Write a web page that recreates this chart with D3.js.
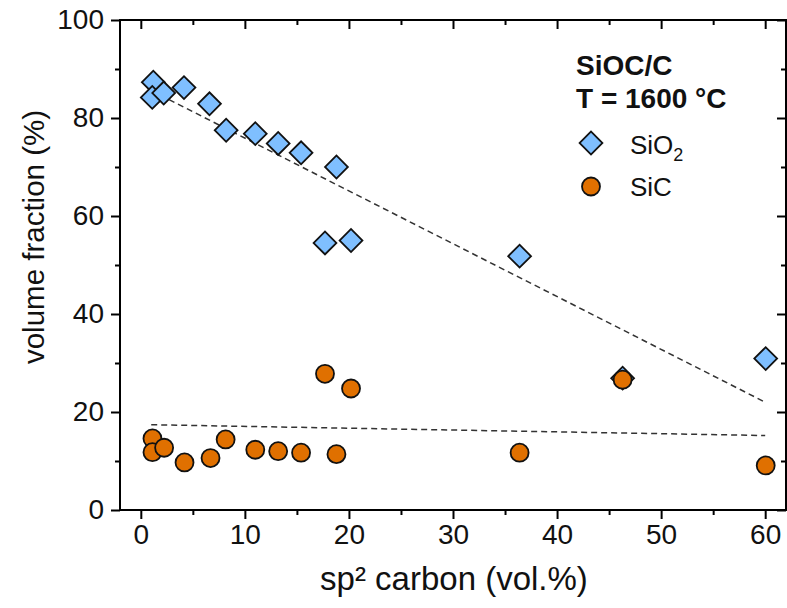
<!DOCTYPE html>
<html>
<head>
<meta charset="utf-8">
<script src="https://cdn.jsdelivr.net/npm/d3@7/dist/d3.min.js"></script>
<style>
  html, body { margin: 0; padding: 0; background: #fff; }
  svg { display: block; font-family: "Liberation Sans", Arial, sans-serif; }
</style>
</head>
<body>
<svg id="chart" width="787" height="608"></svg>
<script>
// ---- data ----
const sio2X = [1.2, 1.1, 2.2, 4.15, 6.6, 8.2, 11.0, 13.2, 15.4, 18.8, 17.7, 20.2, 36.4, 46.3, 60.05];
const sio2Y = [87.3, 84.2, 85.1, 86.2, 82.9, 77.5, 76.8, 74.8, 72.9, 70.0, 54.5, 55.0, 51.8, 26.9, 30.9];
const sicX  = [1.12, 1.12, 2.24, 4.2, 6.7, 8.15, 11.0, 13.2, 15.4, 18.8, 17.7, 20.2, 36.4, 46.3, 60.05];
const sicY  = [14.6, 11.8, 12.7, 9.7, 10.6, 14.4, 12.3, 12.0, 11.7, 11.4, 27.8, 24.8, 11.7, 26.6, 9.1];
const sio2FitX = [1, 60];
const sio2FitY = [85.6, 22.0];
const sicFitX  = [1, 60];
const sicFitY  = [17.4, 15.2];
const xTicks = [0, 10, 20, 30, 40, 50, 60];
const xMinor = [5, 15, 25, 35, 45, 55];
const yTicks = [0, 20, 40, 60, 80, 100];
const yMinor = [10, 30, 50, 70, 90];
const seriesNames = ["SiO\u2082", "SiC"];
const titleLines = ["SiOC/C", "T = 1600 \u00B0C"];

// ---- layout ----
const L = 120, R = 786, T = 20, B = 510;
const svg = d3.select("#chart");
const x = d3.scaleLinear().domain([-2, 62]).range([L, R]);
const y = d3.scaleLinear().domain([0, 100]).range([B, T]);

const blue = "#7fbfff", orange = "#e07000";
const fs = 28;

function styleAxis(g) {
  g.select(".domain").remove();
  g.selectAll("line").attr("stroke", "#000").attr("stroke-width", 2);
  g.selectAll("text").attr("font-size", fs).attr("fill", "#111")
    .attr("font-family", '"Liberation Sans", Arial, sans-serif');
}
// bottom
svg.append("g").attr("transform", `translate(0,${B})`)
  .call(d3.axisBottom(x).tickValues(xTicks).tickSize(9).tickPadding(5).tickFormat(d3.format("d")))
  .call(styleAxis);
svg.append("g").attr("transform", `translate(0,${B})`)
  .call(d3.axisBottom(x).tickValues(xMinor).tickSize(5).tickFormat(""))
  .call(styleAxis);
// left
svg.append("g").attr("transform", `translate(${L},0)`)
  .call(d3.axisLeft(y).tickValues(yTicks).tickSize(9).tickPadding(7).tickFormat(d3.format("d")))
  .call(styleAxis);
svg.append("g").attr("transform", `translate(${L},0)`)
  .call(d3.axisLeft(y).tickValues(yMinor).tickSize(5).tickFormat(""))
  .call(styleAxis);
// top (inward)
svg.append("g").attr("transform", `translate(0,${T})`)
  .call(d3.axisBottom(x).tickValues(xTicks).tickSize(9).tickFormat(""))
  .call(styleAxis);
svg.append("g").attr("transform", `translate(0,${T})`)
  .call(d3.axisBottom(x).tickValues(xMinor).tickSize(5).tickFormat(""))
  .call(styleAxis);
// right (inward)
svg.append("g").attr("transform", `translate(${R},0)`)
  .call(d3.axisLeft(y).tickValues(yTicks).tickSize(9).tickFormat(""))
  .call(styleAxis);
svg.append("g").attr("transform", `translate(${R},0)`)
  .call(d3.axisLeft(y).tickValues(yMinor).tickSize(5).tickFormat(""))
  .call(styleAxis);

// frame
svg.append("rect").attr("x", L).attr("y", T).attr("width", R - L).attr("height", B - T)
  .attr("fill", "none").attr("stroke", "#000").attr("stroke-width", 2);

// axis titles
svg.append("text").attr("x", 454).attr("y", 590).attr("text-anchor", "middle")
  .attr("font-size", 33).attr("fill", "#111").text("sp\u00B2 carbon (vol.%)");
svg.append("text").attr("transform", `translate(44,237) rotate(-90)`).attr("text-anchor", "middle")
  .attr("font-size", 29.5).attr("fill", "#111").text("volume fraction (%)");

// fit lines
const line = d3.line().x(d => x(d[0])).y(d => y(d[1]));
[[sio2FitX, sio2FitY], [sicFitX, sicFitY]].forEach(([fx, fy]) => {
  svg.append("path").datum(fx.map((v, i) => [v, fy[i]])).attr("d", line)
    .attr("fill", "none").attr("stroke", "#333").attr("stroke-width", 1.5).attr("stroke-dasharray", "6,4");
});

// markers
const diamond = d3.symbol().type(d3.symbolSquare).size(260);
svg.append("g").selectAll("path").data(sio2X.map((v, i) => [v, sio2Y[i]])).join("path")
  .attr("d", diamond)
  .attr("transform", d => `translate(${x(d[0])},${y(d[1])}) rotate(45)`)
  .attr("fill", blue).attr("stroke", "#111").attr("stroke-width", 1.8);
svg.append("g").selectAll("circle").data(sicX.map((v, i) => [v, sicY[i]])).join("circle")
  .attr("cx", d => x(d[0])).attr("cy", d => y(d[1])).attr("r", 9)
  .attr("fill", orange).attr("stroke", "#111").attr("stroke-width", 1.8);

// legend
const lg = svg.append("g");
lg.selectAll("text.t").data(titleLines).join("text").attr("class", "t")
  .attr("x", 576).attr("y", (d, i) => 75 + i * 33)
  .attr("font-size", 28).attr("font-weight", "bold").attr("fill", "#111").text(d => d);
lg.append("path").attr("d", diamond).attr("transform", "translate(591,143) rotate(45)")
  .attr("fill", blue).attr("stroke", "#111").attr("stroke-width", 1.8);
lg.append("circle").attr("cx", 591).attr("cy", 186.5).attr("r", 9)
  .attr("fill", orange).attr("stroke", "#111").attr("stroke-width", 1.8);
const t1 = lg.append("text").attr("x", 630).attr("y", 154).attr("font-size", 26).attr("fill", "#111");
t1.append("tspan").text("SiO");
t1.append("tspan").attr("font-size", 18).attr("dy", 7).text("2");
lg.append("text").attr("x", 630).attr("y", 196).attr("font-size", 26).attr("fill", "#111").text(seriesNames[1]);
</script>
</body>
</html>
